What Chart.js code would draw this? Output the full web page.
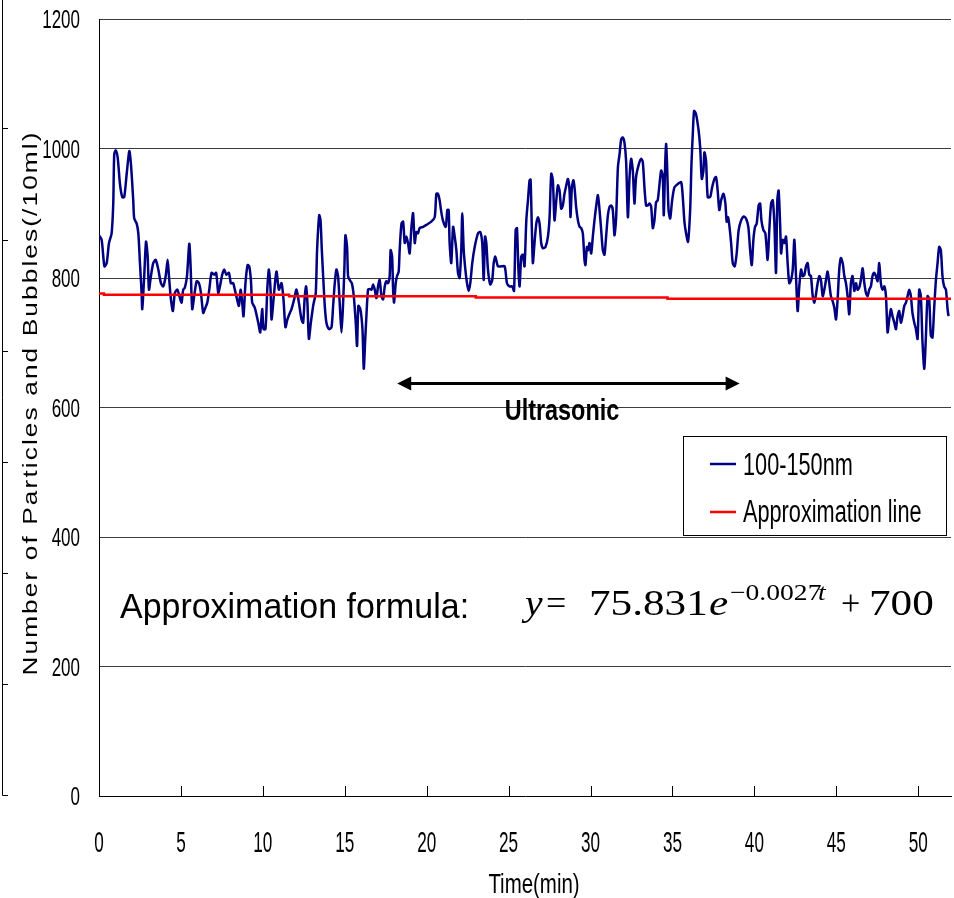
<!DOCTYPE html>
<html>
<head>
<meta charset="utf-8">
<title>Particles and Bubbles 100-150nm</title>
<script src="https://cdn.jsdelivr.net/npm/chart.js@4.4.1/dist/chart.umd.min.js"></script>
<style>
  html, body { margin: 0; padding: 0; background: #fff; }
  canvas { display: block; }
</style>
</head>
<body>
<canvas id="myChart" width="954" height="898"></canvas>
<script>
// 100-150nm counts in four pieces (time in min)
const times1 = [0.00,0.16,0.33,0.47,0.61,0.77,0.87,0.93,1.02,1.14,1.28,1.42,1.54,1.69,1.85,1.95,2.09,2.15,2.30,2.40,
  2.50,2.60,2.64,2.76,2.87,2.97,3.05,3.17,3.31,3.46,3.62,3.78,3.92,4.07,4.19,4.27,4.39,4.51,4.63,4.78,
  4.94,5.04,5.14,5.24,5.37,5.51,5.59,5.69,5.81,5.96,6.10,6.22,6.36,6.46,6.61,6.73,6.87,7.03,7.15,7.28,
  7.38,7.52,7.64,7.78,7.93,8.05,8.19,8.29,8.41,8.54,8.64,8.74,8.82,8.94,9.07,9.17,9.27,9.35,9.51,9.72,
  9.84,9.96,10.04,10.16,10.28,10.37,10.47,10.53,10.67,10.83,10.98,11.14,11.26,11.38,11.50,11.65,11.75,11.91,12.05,12.20,
  12.36,12.46,12.56,12.64,12.72,12.81,12.93,13.07];
const counts1 = [866,859,818,823,854,869,915,991,997,986,945,925,925,961,996,976,920,892,884,869,
  823,777,752,803,856,833,782,803,823,828,813,792,787,803,828,803,767,749,777,782,
  769,762,782,785,803,853,818,752,772,795,792,777,746,752,762,782,808,805,808,777,
  787,805,813,805,808,792,792,782,769,757,782,762,741,792,820,818,797,762,754,731,
  716,752,721,721,787,813,782,736,772,810,782,792,767,724,736,746,752,767,782,762,
  736,731,772,787,762,706,731,757];

const times2 = [13.11,13.23,13.31,13.44,13.52,13.60,13.68,13.78,13.88,14.04,14.19,14.29,14.39,14.49,14.59,14.69,14.80,14.90,14.98,15.04,
  15.14,15.20,15.30,15.43,15.55,15.67,15.75,15.83,15.95,16.08,16.16,16.24,16.32,16.42,16.52,16.63,16.73,16.83,16.93,17.03,
  17.13,17.24,17.34,17.44,17.54,17.64,17.74,17.80,17.89,17.95,18.01,18.11,18.19,18.29,18.35,18.46,18.56,18.66,18.76,18.86,
  18.96,19.07,19.17,19.27,19.37,19.47,19.57,19.78,19.98,20.28,20.49,20.59,20.69,20.79,20.89,20.99,21.16,21.26,21.34,21.40,
  21.50,21.61,21.71,21.81,21.91,22.01,22.11,22.17,22.26,22.36,22.46,22.56,22.66,22.78,22.93,23.13,23.27,23.39,23.48,23.56,
  23.64,23.74,23.88,24.00,24.09,24.19,24.35,24.55,24.76,24.90,25.06,25.22,25.33,25.43,25.51,25.59,25.67];
const counts2 = [762,777,843,897,889,843,803,757,731,721,724,757,792,813,803,762,716,762,818,866,
  848,803,797,792,772,731,695,757,752,721,660,701,741,782,783,782,790,782,769,787,
  797,772,767,787,795,792,803,843,833,782,762,792,803,810,843,884,887,854,864,854,
  838,879,900,854,871,869,877,879,882,887,894,930,930,920,902,889,879,905,905,854,
  823,879,864,843,808,800,843,900,843,813,792,780,792,823,848,869,871,854,797,864,
  854,813,790,797,823,833,818,818,818,792,787,787,780,874,877,818,787];

const times3 = [25.77,25.87,25.97,26.08,26.18,26.28,26.34,26.42,26.48,26.58,26.69,26.79,26.89,26.99,27.09,27.25,27.40,27.50,27.60,27.70,
  27.80,27.91,28.01,28.11,28.21,28.31,28.41,28.52,28.62,28.72,28.78,28.86,28.96,29.04,29.12,29.23,29.33,29.43,29.53,29.63,
  29.69,29.78,29.86,29.94,30.04,30.14,30.24,30.34,30.45,30.55,30.65,30.75,30.85,30.95,31.06,31.16,31.26,31.36,31.46,31.56,
  31.67,31.77,31.87,31.97,32.07,32.17,32.28,32.38,32.48,32.58,32.68,32.78,32.95,33.09,33.19,33.29,33.39,33.49,33.60,33.70,
  33.80,33.90,34.00,34.10,34.21,34.31,34.41,34.47,34.55,34.61,34.67,34.76,34.86,34.98,35.12,35.32,35.53,35.63,35.73,35.83,
  35.95,36.08,36.16,36.24,36.32,36.44,36.60,36.69,36.79,36.89,36.95,37.05,37.15,37.30,37.42,37.56,37.66,37.76,37.86];
const counts3 = [833,836,818,889,920,951,952,874,823,854,884,894,884,854,846,848,864,894,961,951,
  889,920,943,935,907,912,930,943,953,935,894,940,951,935,910,889,879,877,869,828,
  820,848,843,854,838,864,889,910,928,905,874,843,836,864,897,910,912,905,866,892,
  971,991,1014,1017,1009,981,894,956,984,966,915,956,976,984,979,940,912,912,915,910,
  877,889,917,920,945,966,956,897,971,1007,976,905,892,920,940,945,948,925,887,869,
  856,905,976,1022,1058,1053,1027,1002,953,966,994,981,925,925,940,953,956,935,905];

const times4 = [37.97,38.11,38.23,38.31,38.39,38.48,38.58,38.68,38.80,38.92,39.04,39.19,39.35,39.49,39.63,39.74,39.84,39.94,40.04,40.14,
  40.26,40.35,40.43,40.55,40.67,40.81,40.91,41.02,41.12,41.22,41.32,41.40,41.48,41.57,41.63,41.73,41.83,41.93,42.03,42.13,
  42.24,42.34,42.44,42.54,42.64,42.74,42.85,42.95,43.05,43.15,43.25,43.35,43.45,43.56,43.66,43.76,43.86,43.96,44.06,44.17,
  44.27,44.37,44.47,44.57,44.67,44.78,44.88,44.98,45.08,45.18,45.28,45.39,45.49,45.59,45.69,45.79,45.89,45.99,46.10,46.20,
  46.30,46.40,46.50,46.61,46.71,46.81,46.91,47.01,47.11,47.21,47.32,47.42,47.52,47.62,47.72,47.82,47.93,48.03,48.13,48.23,
  48.33,48.43,48.54,48.64,48.74,48.84,48.94,49.04,49.15,49.25,49.35,49.45,49.55,49.65,49.76,49.86,49.96,50.06,50.16,50.26,
  50.37,50.47,50.57,50.67,50.77,50.87,50.97,51.08,51.18,51.28,51.38,51.48,51.58,51.69,51.79,51.85];
const counts4 = [920,930,915,887,894,879,854,823,818,838,874,889,895,892,879,843,820,859,879,884,
  912,915,889,874,869,828,874,915,920,884,808,920,935,884,838,859,854,864,823,792,
  797,813,859,803,749,787,813,803,805,818,823,805,803,772,762,775,792,803,797,772,
  782,797,810,792,772,764,754,736,767,813,831,823,803,792,772,744,792,803,780,792,
  782,785,797,815,792,777,772,782,787,803,808,803,795,823,792,782,787,772,716,736,
  752,741,731,721,741,749,731,741,757,762,772,782,772,746,731,721,706,782,772,701,
  660,711,772,767,711,708,752,797,823,848,843,803,787,782,752,741];

// approximation line as drawn (small steps)
const approxTimes = [0, 0.3, 11.6, 23.0, 34.7, 47.6, 52];
const approxValues = [778, 776, 774, 772, 770, 768, 768];

// axes
const xTickValues = [0, 5, 10, 15, 20, 25, 30, 35, 40, 45, 50];
const yTickValues = [0, 200, 400, 600, 800, 1000, 1200];

// ultrasonic period marker
const ultraFrom = 18.2;
const ultraTo = 39.1;
const ultraLevel = 638;

const times = times1.concat(times2, times3, times4);
const counts = counts1.concat(counts2, counts3, counts4);

const sans = "'Liberation Sans', Arial, sans-serif";
const serif = "'Liberation Serif', 'Times New Roman', serif";

// text squeezed or stretched sideways
let drawText = (ctx, text, x, y, font, sx, align) => {
    ctx.save();
    ctx.font = font;
    ctx.textAlign = align || 'left';
    ctx.textBaseline = 'alphabetic';
    ctx.translate(x, y);
    ctx.scale(sx, 1);
    ctx.fillText(text, 0, 0);
    ctx.restore();
}

const overlay = {
    id: 'overlay',
    afterDraw(chart) {
        const { ctx, chartArea: area, scales: { x, y } } = chart;
        ctx.save();
        ctx.fillStyle = '#000';
        ctx.strokeStyle = '#000';

        // ticks pointing into the plot
        ctx.lineWidth = 1;
        xTickValues.forEach(v => {
            const px = Math.round(x.getPixelForValue(v)) + 0.5;
            ctx.beginPath();
            ctx.moveTo(px, area.bottom);
            ctx.lineTo(px, area.bottom - 10);
            ctx.stroke();
        });

        // tick labels, tall and narrow like the original
        yTickValues.forEach(v => {
            drawText(ctx, String(v), 80, y.getPixelForValue(v) + 9, '25px ' + sans, 0.68, 'right');
        });
        xTickValues.forEach(v => {
            drawText(ctx, String(v), x.getPixelForValue(v), 852, '30px ' + sans, 0.57, 'center');
        });

        // edge of the neighbouring frame
        ctx.beginPath();
        ctx.moveTo(2.5, 0);
        ctx.lineTo(2.5, 795.5);
        [128, 240, 351, 462, 573, 684, 795].forEach(py => {
            ctx.moveTo(2.5, py + 0.5);
            ctx.lineTo(8, py + 0.5);
        });
        ctx.stroke();

        // axis titles
        ctx.save();
        ctx.translate(31, 403);
        ctx.rotate(-Math.PI / 2);
        ctx.font = '21px ' + sans;
        ctx.textAlign = 'center';
        ctx.textBaseline = 'middle';
        const yTitle = 'Number of Particles and Bubbles(/10ml)';
        const sx = 1.25;
        const w0 = ctx.measureText(yTitle).width;
        ctx.letterSpacing = ((545 / sx - w0) / yTitle.length).toFixed(2) + 'px';
        ctx.scale(sx, 1);
        ctx.fillText(yTitle, 0, 0);
        ctx.restore();

        drawText(ctx, 'Time(min)', 534, 893, '28px ' + sans, 0.73, 'center');

        // ultrasonic arrow
        const ay = Math.round(y.getPixelForValue(ultraLevel)) + 0.5;
        const a1 = x.getPixelForValue(ultraFrom);
        const a2 = x.getPixelForValue(ultraTo);
        ctx.lineWidth = 3;
        ctx.beginPath();
        ctx.moveTo(a1 + 8, ay);
        ctx.lineTo(a2 - 8, ay);
        ctx.stroke();
        ctx.beginPath();
        ctx.moveTo(a1, ay);
        ctx.lineTo(a1 + 14, ay - 7);
        ctx.lineTo(a1 + 14, ay + 7);
        ctx.closePath();
        ctx.moveTo(a2, ay);
        ctx.lineTo(a2 - 14, ay - 7);
        ctx.lineTo(a2 - 14, ay + 7);
        ctx.closePath();
        ctx.fill();
        drawText(ctx, 'Ultrasonic', 562, 420, 'bold 30px ' + sans, 0.78, 'center');

        // legend box
        ctx.lineWidth = 1;
        ctx.fillStyle = '#fff';
        ctx.fillRect(683.5, 436.5, 263, 99);
        ctx.strokeRect(683.5, 436.5, 263, 99);
        ctx.lineWidth = 2.5;
        ctx.strokeStyle = '#000080';
        ctx.beginPath(); ctx.moveTo(710, 464); ctx.lineTo(736, 464); ctx.stroke();
        ctx.strokeStyle = '#ff0000';
        ctx.beginPath(); ctx.moveTo(710, 512); ctx.lineTo(736, 512); ctx.stroke();
        ctx.fillStyle = '#000';
        drawText(ctx, '100-150nm', 743, 475, '31px ' + sans, 0.7);
        drawText(ctx, 'Approximation line', 743, 522, '31px ' + sans, 0.7);

        // fitted formula
        drawText(ctx, 'Approximation formula:', 120, 618, '35px ' + sans, 0.97);
        drawText(ctx, 'y', 525, 615, 'italic 36px ' + serif, 1.1);
        drawText(ctx, '=', 546, 615, '36px ' + serif, 1.0);
        drawText(ctx, '75.831', 589, 615, '36px ' + serif, 1.2);
        drawText(ctx, 'e', 709, 615, 'italic 36px ' + serif, 1.2);
        drawText(ctx, '\u22120.0027', 730, 600, '23px ' + serif, 1.2);
        drawText(ctx, 't', 818, 600, 'italic 23px ' + serif, 1.2);
        drawText(ctx, '+', 841, 615, '36px ' + serif, 0.95);
        drawText(ctx, '700', 869, 615, '36px ' + serif, 1.2);

        ctx.restore();
    }
};

document.addEventListener('DOMContentLoaded', () => {
    new Chart('myChart', {
        type: 'line',
        data: {
            datasets: [{
                label: '100-150nm',
                data: times.map((t, i) => ({ x: t, y: counts[i] })),
                borderColor: '#000080',
                borderWidth: 2.5,
                pointRadius: 0,
                tension: 0.25,
                order: 2
            }, {
                label: 'Approximation line',
                data: approxTimes.map((t, i) => ({ x: t, y: approxValues[i] })),
                borderColor: '#ff0000',
                borderWidth: 2.5,
                pointRadius: 0,
                stepped: 'after',
                order: 1
            }]
        },
        options: {
            responsive: false,
            animation: false,
            devicePixelRatio: 1,
            layout: { padding: { top: 19, right: 3, left: 0, bottom: 0 } },
            plugins: {
                legend: { display: false },
                tooltip: { enabled: false }
            },
            scales: {
                x: {
                    type: 'linear',
                    min: 0,
                    max: 52,
                    afterBuildTicks: s => { s.ticks = xTickValues.map(v => ({ value: v })); },
                    afterFit: s => { s.height = 102; },
                    grid: { display: false, drawTicks: false },
                    border: { color: '#000', width: 1 },
                    ticks: { display: false }
                },
                y: {
                    min: 0,
                    max: 1200,
                    afterBuildTicks: s => { s.ticks = yTickValues.map(v => ({ value: v })); },
                    afterFit: s => { s.width = 99; },
                    grid: {
                        drawTicks: false,
                        color: c => c.tick.value === 0 ? 'rgba(0,0,0,0)' : '#3c3c3c'
                    },
                    border: { color: '#000', width: 1 },
                    ticks: { display: false }
                }
            }
        },
        plugins: [overlay]
    });
});
</script>
</body>
</html>
